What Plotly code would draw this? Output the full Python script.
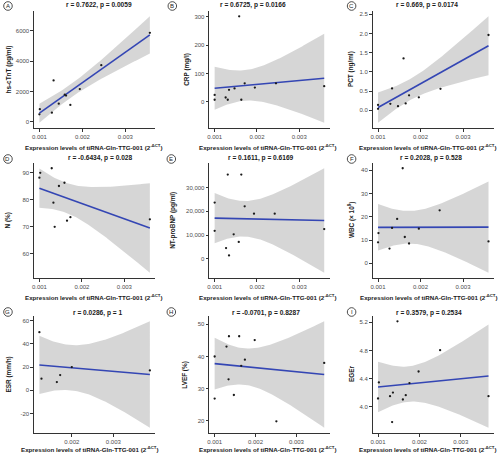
import numpy as np
import plotly.graph_objects as go

W, H = 500, 454

# ---------------- data ----------------
x_A = [0.00101, 0.00100, 0.00129, 0.00133, 0.00145, 0.00159, 0.00162, 0.00172, 0.00194, 0.00244, 0.00357]
y_A = [831, 492, 600, 2729, 1195, 1789, 1725, 1112, 2153, 3732, 5860]

x_B = [0.00100, 0.00100, 0.00126, 0.00131, 0.00134, 0.00147, 0.00158, 0.00163, 0.00171, 0.00195, 0.00245, 0.00359]
y_B = [24, 7, 15, 7, 42, 47, 302, 7, 65, 50, 65, 55]

x_C = [0.00100, 0.00100, 0.00129, 0.00133, 0.00147, 0.00160, 0.00165, 0.00173, 0.00196, 0.00247, 0.00360]
y_C = [0.14, 0.04, 0.17, 0.57, 0.11, 1.35, 0.18, 0.39, 0.34, 0.56, 1.96]

x_D = [0.00100, 0.00102, 0.00129, 0.00133, 0.00136, 0.00146, 0.00159, 0.00165, 0.00173, 0.00360]
y_D = [88.2, 90.0, 91.7, 78.9, 69.9, 85.1, 86.3, 72.2, 73.5, 72.7]

x_E = [0.00100, 0.00100, 0.00127, 0.00131, 0.00134, 0.00145, 0.00157, 0.00163, 0.00171, 0.00193, 0.00242, 0.00359]
y_E = [23700, 11800, 4500, 35500, 1400, 10300, 7100, 35500, 22100, 19000, 19000, 12500]

x_F = [0.00101, 0.00100, 0.00127, 0.00133, 0.00145, 0.00158, 0.00163, 0.00173, 0.00196, 0.00245, 0.00360]
y_F = [13.0, 9.0, 6.3, 15.2, 19.1, 40.9, 11.3, 8.5, 14.9, 22.8, 9.4]

x_G = [0.00122, 0.00127, 0.00164, 0.00172, 0.00200, 0.00388]
y_G = [50, 10, 7.1, 13.1, 20, 17.1]

x_H = [0.00100, 0.00100, 0.00129, 0.00134, 0.00135, 0.00147, 0.00160, 0.00165, 0.00174, 0.00198, 0.00251, 0.00368]
y_H = [40.0, 26.9, 43.1, 32.9, 46.3, 28.0, 46.3, 37.1, 39.0, 45.1, 19.8, 38.0]

x_I = [0.00100, 0.00102, 0.00129, 0.00136, 0.00134, 0.00147, 0.00160, 0.00167, 0.00176, 0.00198, 0.00250, 0.00367]
y_I = [4.116, 4.345, 4.149, 4.200, 3.780, 5.214, 4.102, 4.163, 4.335, 4.500, 4.803, 4.149]

titles = ["r = 0.7622, p = 0.0059", "r = 0.6725, p = 0.0166", "r = 0.669, p = 0.0174",
          "r = -0.6434, p = 0.028", "r = 0.1611, p = 0.6169", "r = 0.2028, p = 0.528",
          "r = 0.0286, p = 1", "r = -0.0701, p = 0.8287", "r = 0.3579, p = 0.2534"]
letters = ["A", "B", "C", "D", "E", "F", "G", "H", "I"]
y_titles = ["hs-cTnT (pg/ml)", "CRP (mg/l)", "PCT (ng/ml)", "N (%)", "NT-proBNP (pg/ml)",
            "WBC (× 10<sup>9</sup>)", "ESR (mm/h)", "LVEF (%)", "EGEr"]
x_title = "Expression levels of tiRNA-Gln-TTG-001 (2<sup>-ΔCT</sup>)"

x_tickvals = [0.001, 0.002, 0.003]
x_ticktext = ["0.001", "0.002", "0.003"]
y_tickvals = [[0, 2000, 4000, 6000], [0, 100, 200, 300], [0, 0.5, 1.0, 1.5, 2.0, 2.5],
              [60, 70, 80, 90], [0, 10000, 20000, 30000], [0, 10, 20, 30, 40],
              [-20, 0, 20, 40, 60], [20, 30, 40, 50], [4.0, 4.4, 4.8, 5.2]]
y_ticktext = [["0", "2000", "4000", "6000"], ["0", "100", "200", "300"],
              ["0.0", "0.5", "1.0", "1.5", "2.0", "2.5"], ["60", "70", "80", "90"],
              ["0", "10,000", "20,000", "30,000"], ["0", "10", "20", "30", "40"],
              ["-20", "0", "20", "40", "60"], ["20", "30", "40", "50"],
              ["4.0", "4.4", "4.8", "5.2"]]

xs_all = [x_A, x_B, x_C, x_D, x_E, x_F, x_G, x_H, x_I]
ys_all = [y_A, y_B, y_C, y_D, y_E, y_F, y_G, y_H, y_I]

# t quantiles (0.975) by degrees of freedom
T975 = {4: 2.776, 5: 2.571, 6: 2.447, 7: 2.365, 8: 2.306, 9: 2.262, 10: 2.228, 11: 2.201}

# ---------------- layout (pixels) ----------------
cols = [(32, 154), (208, 329), (372, 494)]
rows = [(11, 128), (163, 278), (316, 433)]
title_pos = [(97, 5), (252, 5), (427, 5), (98, 158), (260, 158), (431, 158),
             (96, 313), (265, 313), (429, 313)]
letter_pos = [(6, 6), (171, 6), (351, 6), (6, 159), (170, 159), (351, 159),
              (6, 312), (170, 312), (351, 312)]
ytitle_x = [7, 185, 350, 7, 172, 351, 7, 183, 351]
xtitle_pos = [(92, 146.5), (267, 146.5), (428, 146.5), (92, 296.5), (267, 296.5), (429, 296.5),
              (88, 449), (267, 449), (428, 449)]

FONT = "Liberation Sans, Arial, sans-serif"
fig = go.Figure()
annotations = []
shapes = []


def fx(p):
    return p / W


def fy(p):
    return 1 - p / H


for i in range(9):
    x = np.array(xs_all[i], dtype=float)
    y = np.array(ys_all[i], dtype=float)
    n = len(x)
    xbar = x.mean()
    sxx = ((x - xbar) ** 2).sum()
    slope = ((x - xbar) * (y - y.mean())).sum() / sxx
    icpt = y.mean() - slope * xbar
    resid = y - (icpt + slope * x)
    s = np.sqrt((resid ** 2).sum() / (n - 2))
    grid = np.linspace(x.min(), x.max(), 80)
    fit = icpt + slope * grid
    hw = T975[n - 2] * s * np.sqrt(1.0 / n + (grid - xbar) ** 2 / sxx)
    upper, lower = fit + hw, fit - hw

    xr = x.max() - x.min()
    xrange = [x.min() - 0.05 * xr, x.max() + 0.05 * xr]
    ymin = min(y.min(), lower.min())
    ymax = max(y.max(), upper.max())
    yr = ymax - ymin
    yrange = [ymin - 0.05 * yr, ymax + 0.05 * yr]

    k = "" if i == 0 else str(i + 1)
    xa, ya = "x" + k, "y" + k
    c0, c1 = cols[i % 3]
    r0, r1 = rows[i // 3]

    fig.add_trace(go.Scatter(x=grid, y=lower, mode="lines",
                             line=dict(width=0.5, color="rgba(0,0,0,0)"),
                             hoverinfo="skip", xaxis=xa, yaxis=ya))
    fig.add_trace(go.Scatter(x=grid, y=upper, mode="lines", fill="tonexty",
                             fillcolor="rgba(153,153,153,0.4)",
                             line=dict(width=0.5, color="rgba(0,0,0,0)"),
                             hoverinfo="skip", xaxis=xa, yaxis=ya))
    fig.add_trace(go.Scatter(x=grid, y=fit, mode="lines",
                             line=dict(color="#3446b4", width=1.6),
                             xaxis=xa, yaxis=ya))
    fig.add_trace(go.Scatter(x=x, y=y, mode="markers",
                             marker=dict(size=2.3, color="#1a1a1a"),
                             xaxis=xa, yaxis=ya))

    axstyle = dict(showline=True, linecolor="#333333", linewidth=1, ticks="outside",
                   ticklen=2.5, tickwidth=1, tickcolor="#333333", showgrid=False,
                   zeroline=False, tickfont=dict(size=6, color="#4d4d4d", family=FONT))
    fig.layout["xaxis" + k] = dict(domain=[fx(c0), fx(c1)], range=xrange, anchor=ya,
                                   tickvals=x_tickvals, ticktext=x_ticktext, **axstyle)
    fig.layout["yaxis" + k] = dict(domain=[fy(r1), fy(r0)], range=yrange, anchor=xa,
                                   tickvals=y_tickvals[i], ticktext=y_ticktext[i], **axstyle)

    tx, ty = title_pos[i]
    annotations.append(dict(text="<b>" + titles[i] + "</b>", x=fx(tx), y=fy(ty),
                            xref="paper", yref="paper", showarrow=False,
                            xanchor="center", yanchor="middle",
                            font=dict(size=6.6, color="#1a1a1a", family=FONT)))
    annotations.append(dict(text="<b>" + y_titles[i] + "</b>", x=fx(ytitle_x[i]),
                            y=fy((r0 + r1) / 2), xref="paper", yref="paper",
                            showarrow=False, textangle=-90, xanchor="center",
                            yanchor="middle",
                            font=dict(size=6.4, color="#1a1a1a", family=FONT)))
    xt, yt = xtitle_pos[i]
    annotations.append(dict(text="<b>" + x_title + "</b>", x=fx(xt), y=fy(yt),
                            xref="paper", yref="paper", showarrow=False,
                            xanchor="center", yanchor="middle",
                            font=dict(size=6.2, color="#1a1a1a", family=FONT)))
    lx, ly = letter_pos[i]
    rad = 4.3
    shapes.append(dict(type="circle", xref="paper", yref="paper",
                       x0=fx(lx - rad), x1=fx(lx + rad), y0=fy(ly + rad), y1=fy(ly - rad),
                       line=dict(color="#222222", width=0.8)))
    annotations.append(dict(text=letters[i], x=fx(lx), y=fy(ly), xref="paper",
                            yref="paper", showarrow=False, xanchor="center",
                            yanchor="middle",
                            font=dict(size=6, color="#222222", family=FONT)))

fig.update_layout(width=W, height=H, margin=dict(l=0, r=0, t=0, b=0),
                  plot_bgcolor="white", paper_bgcolor="white", showlegend=False,
                  font=dict(family=FONT), annotations=annotations, shapes=shapes)

fig.write_html("out.html", config={"displayModeBar": False},
               post_script="document.body.style.margin='0px';document.body.style.overflow='hidden';")
